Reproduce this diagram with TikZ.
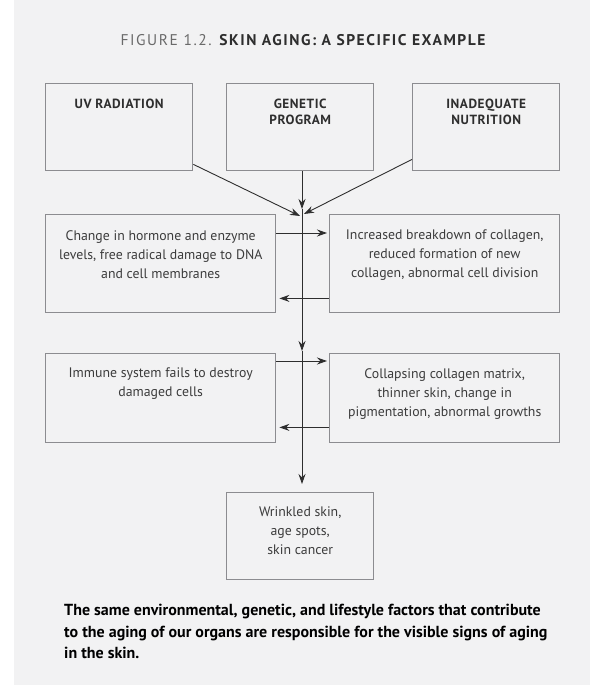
\documentclass[tikz,border=0pt]{standalone}
\usepackage{fontspec}
\setmainfont{PT Sans}
\usetikzlibrary{arrows.meta,calc}
\definecolor{SKPanel}{HTML}{F2F2F3}
\definecolor{SKFrame}{HTML}{8C8C90}
\definecolor{SKInk}{HTML}{2E2E2E}
\definecolor{SKText}{HTML}{3C3C3C}
\definecolor{SKGrey}{HTML}{6A6A6A}

\begin{document}
\begin{tikzpicture}[x=1pt,y=-1pt,
  panelbox/.style 2 args={draw=SKFrame,line width=1.4pt,minimum width=#1,minimum height=#2,inner sep=0pt,anchor=north west},
  headtxt/.style={anchor=north,align=center,inner sep=0pt,text=SKInk,font=\fontsize{13.3}{16}\selectfont\bfseries\addfontfeatures{LetterSpace=4}},
  bodytxt/.style={anchor=north,align=center,inner sep=0pt,text=SKText,font=\fontsize{13.8}{19}\selectfont},
  flow/.style={draw=SKInk,line width=0.9pt,-{Stealth[length=10pt,width=7pt]}}]
\path[use as bounding box] (0,0) rectangle (614,700);
\fill[white] (0,0) rectangle (614,700);
\fill[SKPanel] (14,0) rectangle (590,685);
% title
\node[anchor=base,inner sep=0pt,font=\fontsize{15.5}{18}\selectfont\addfontfeatures{LetterSpace=10}] (title) at (303,46)
  {\textcolor{SKGrey}{FIGURE 1.2.} \textcolor{SKInk}{\bfseries SKIN AGING: A SPECIFIC EXAMPLE}};
% causes
\node[panelbox={147pt}{87pt}] (uv) at (45,83) {};
\node[panelbox={147pt}{87pt}] (gen) at (226,83) {};
\node[panelbox={147pt}{87pt}] (nut) at (412,83) {};
\node[headtxt] (uvtxt) at ($(uv.north)+(0,16)$) {UV RADIATION};
\node[headtxt] (gentxt) at ($(gen.north)+(0,16)$) {GENETIC\\PROGRAM};
\node[headtxt] (nuttxt) at ($(nut.north)+(0,16)$) {INADEQUATE\\NUTRITION};
% effects
\node[panelbox={230pt}{98pt}] (chg) at (45,214) {};
\node[panelbox={230pt}{98pt}] (brk) at (329,214) {};
\node[panelbox={230pt}{89pt}] (imm) at (45,353) {};
\node[panelbox={230pt}{89pt}] (col) at (329,353) {};
\node[panelbox={147pt}{87pt}] (wr) at (226,492) {};
\node[bodytxt] (chgtxt) at ($(chg.north)+(0,16)$) {Change in hormone and enzyme\\levels, free radical damage to DNA\\and cell membranes};
\node[bodytxt] (brktxt) at ($(brk.north)+(0,16)$) {Increased breakdown of collagen,\\reduced formation of new\\collagen, abnormal cell division};
\node[bodytxt] (immtxt) at ($(imm.north)+(0,15)$) {Immune system fails to destroy\\damaged cells};
\node[bodytxt] (coltxt) at ($(col.north)+(0,15)$) {Collapsing collagen matrix,\\thinner skin, change in\\pigmentation, abnormal growths};
\node[bodytxt] (wrtxt) at ($(wr.north)+(0,15)$) {Wrinkled skin,\\age spots,\\skin cancer};
% connectors
\coordinate (hub) at (302,216);
\coordinate (tipA) at (302,209);
\coordinate (tipB) at (302,351);
\draw[flow] (tipA |- gen.south) -- (tipA);
\draw[flow] (tipA) -- (tipB);
\draw[flow,shorten >=8pt] (tipB) -- (tipB |- wr.north);
\draw[flow] ($(uv.south east)+(0,-7)$) -- ($(hub)+(-2,0)$);
\draw[flow] ($(nut.south west)+(0,-12)$) -- ($(hub)+(2,-2)$);
\draw[flow] ($(chg.north east)+(0,19)$) -- ($(brk.north west)+(-2,19)$);
\draw[flow] ($(brk.south west)+(0,-15)$) -- ($(chg.south east)+(3,-15)$);
\draw[flow] ($(imm.north east)+(0,8)$) -- ($(col.north west)+(-2,8)$);
\draw[flow] ($(col.south west)+(0,-16)$) -- ($(imm.south east)+(3,-16)$);
% caption
\node[anchor=north west,align=left,inner sep=0pt,text=black,font=\fontsize{16}{21.5}\selectfont\bfseries] (note) at (64,604)
  {The same environmental, genetic, and lifestyle factors that contribute\\to the aging of our organs are responsible for the visible signs of aging\\in the skin.};
\end{tikzpicture}
\end{document}
